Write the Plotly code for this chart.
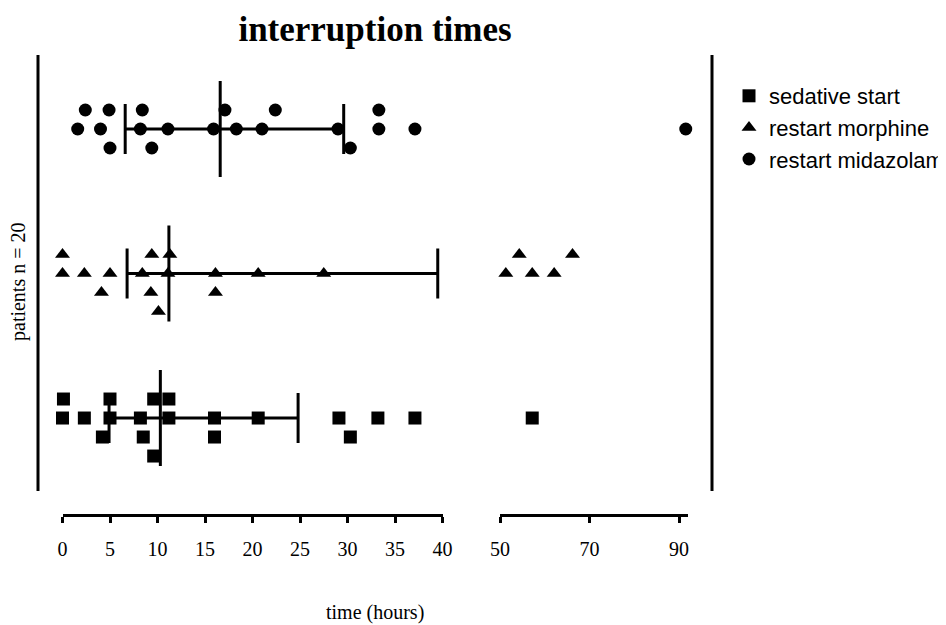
import plotly.graph_objects as go

# ---------------- data ----------------
series_names = ["sedative start", "restart morphine", "restart midazolam"]

sedative_hours = [0.1, 5.0, 9.6, 11.2,
                  0.0, 2.3, 5.0, 8.2, 11.2, 16.0, 20.6, 29.1, 33.2, 37.1,
                  4.2, 8.5, 16.0, 30.3,
                  9.6,
                  57.2]
sedative_stack = [1, 1, 1, 1,
                  0, 0, 0, 0, 0, 0, 0, 0, 0, 0,
                  -1, -1, -1, -1,
                  -2,
                  0]

morphine_hours = [0.0, 9.4, 11.3,
                  0.0, 2.3, 5.0, 8.4, 11.1, 16.1, 20.6, 27.5,
                  4.1, 9.3, 16.1,
                  10.1,
                  54.3, 66.2, 51.3, 57.2, 62.1]
morphine_stack = [1, 1, 1,
                  0, 0, 0, 0, 0, 0, 0, 0,
                  -1, -1, -1,
                  -2,
                  1, 1, 0, 0, 0]

midazolam_hours = [2.4, 4.9, 8.4, 17.1, 22.4, 33.3,
                   1.6, 4.0, 8.2, 11.1, 15.9, 18.3, 21.0, 29.0, 33.3, 37.1,
                   5.0, 9.4, 30.3,
                   91.5]
midazolam_stack = [1, 1, 1, 1, 1, 1,
                   0, 0, 0, 0, 0, 0, 0, 0, 0, 0,
                   -1, -1, -1,
                   0]

q1_hours = [4.9, 6.8, 6.6]
median_hours = [10.3, 11.2, 16.6]
q3_hours = [24.8, 39.5, 29.6]

ticks_left = [0, 5, 10, 15, 20, 25, 30, 35, 40]
ticks_right = [50, 70, 90]

# ---------------- styling / layout ----------------
OFF = 8                      # page body margin of the html page
W, H = 946 - OFF, 625 - OFF
# plot area in page pixels: x 38..712, y 55..515
PL, PR, PT, PB = 38, 712, 55, 515
ML, MT = PL - OFF, PT - OFF
PW, PH = PR - PL, PB - PT
MR, MB = W - ML - PW, H - MT - PH

def px_x(p):
    return (p - PL) / PW

def px_y(p):
    return (PB - p) / PH

BREAK = 45
STEP = 0.1315
Q_HALF = 0.173
M_HALF = 0.332
symbols = ["square", "triangle-up", "circle"]
sizes = [13, 13, 13]

series = [(sedative_hours, sedative_stack),
          (morphine_hours, morphine_stack),
          (midazolam_hours, midazolam_stack)]

fig = go.Figure()

for gi, (name, (hrs, stk)) in enumerate(zip(series_names, series)):
    g = gi + 1
    lx = [h for h in hrs if h < BREAK]
    ly = [g + s * STEP for h, s in zip(hrs, stk) if h < BREAK]
    rx = [h for h in hrs if h >= BREAK]
    ry = [g + s * STEP for h, s in zip(hrs, stk) if h >= BREAK]
    mk = dict(symbol=symbols[gi], size=sizes[gi], color="black", line=dict(width=0))
    fig.add_trace(go.Scatter(x=lx, y=ly, mode="markers", name=name, marker=mk,
                             cliponaxis=False, xaxis="x", yaxis="y"))
    fig.add_trace(go.Scatter(x=rx, y=ry, mode="markers", name=name, marker=mk,
                             showlegend=False, cliponaxis=False,
                             xaxis="x2", yaxis="y"))

# median / quartile bars
for gi in range(3):
    g = gi + 1
    a, m, b = q1_hours[gi], median_hours[gi], q3_hours[gi]
    xs = [a, b, None, a, a, None, m, m, None, b, b]
    ys = [g, g, None, g - Q_HALF, g + Q_HALF, None, g - M_HALF, g + M_HALF, None,
          g - Q_HALF, g + Q_HALF]
    fig.add_trace(go.Scatter(x=xs, y=ys, mode="lines", showlegend=False,
                             line=dict(color="black", width=3), cliponaxis=False,
                             hoverinfo="skip", xaxis="x", yaxis="y"))

yd0 = px_y(491)
shapes = [
    dict(type="line", xref="paper", yref="paper", x0=0, x1=0, y0=yd0, y1=1,
         line=dict(color="black", width=3)),
    dict(type="line", xref="paper", yref="paper", x0=1, x1=1, y0=yd0, y1=1,
         line=dict(color="black", width=3)),
]

serif = "Liberation Serif"
sans = "Liberation Sans"
axis_common = dict(showline=True, linewidth=3, linecolor="black", ticks="outside",
                   ticklen=6, tickwidth=3, tickcolor="black", showgrid=False,
                   zeroline=False, anchor="free", position=0,
                   tickfont=dict(family=serif, size=20, color="black"),
                   ticklabelstandoff=9)

fig.update_layout(
    width=W, height=H,
    margin=dict(l=ML, r=MR, t=MT, b=MB, autoexpand=False),
    paper_bgcolor="white", plot_bgcolor="white",
    title=dict(text="interruption times", x=px_x(375), xref="paper", xanchor="center",
               y=1 - (29 - OFF) / H, yref="container", yanchor="middle",
               font=dict(family=serif, size=35, color="black", weight="bold")),
    xaxis=dict(domain=[px_x(62.5), px_x(442.5)], range=[0, 40],
               tickvals=ticks_left, **axis_common),
    xaxis2=dict(domain=[px_x(500), px_x(688)], range=[50, 92],
                tickvals=ticks_right, **axis_common),
    yaxis=dict(domain=[yd0, 1], range=[0.495, 3.512], visible=False),
    shapes=shapes,
    showlegend=True,
    legend=dict(x=px_x(729), xanchor="left", y=px_y(75), yanchor="top",
                font=dict(family=sans, size=22, color="black"),
                tracegroupgap=0, bgcolor="rgba(0,0,0,0)", borderwidth=0),
    annotations=[
        dict(text="time (hours)", x=px_x(375), y=px_y(612), xref="paper", yref="paper",
             xanchor="center", yanchor="middle", showarrow=False,
             font=dict(family=serif, size=20, color="black")),
        dict(text="patients n = 20", x=px_x(18), y=px_y(282), xref="paper", yref="paper",
             xanchor="center", yanchor="middle", showarrow=False, textangle=-90,
             font=dict(family=serif, size=20, color="black")),
    ],
)

fig.write_html("out.html")
